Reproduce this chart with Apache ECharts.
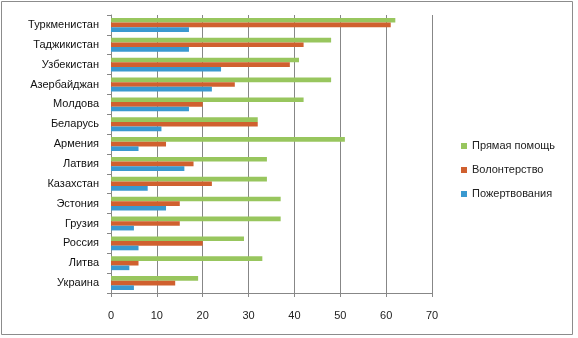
<!DOCTYPE html>
<html>
<head>
<meta charset="utf-8">
<script src="https://cdn.jsdelivr.net/npm/echarts@6/dist/echarts.min.js"></script>
<style>
  html, body { margin: 0; padding: 0; background: #fff; }
  #chart { width: 578px; height: 338px; }
</style>
</head>
<body>
<div id="chart"></div>
<script>
// Countries, bottom to top as drawn on the category axis
const countries = ['Украина', 'Литва', 'Россия', 'Грузия', 'Эстония', 'Казахстан', 'Латвия',
  'Армения', 'Беларусь', 'Молдова', 'Азербайджан', 'Узбекистан', 'Таджикистан', 'Туркменистан'];

const directHelp = [19, 33, 29, 37, 37, 34, 34, 51, 32, 42, 48, 41, 48, 62];
const volunteering = [14, 6, 20, 15, 15, 22, 18, 12, 32, 20, 27, 39, 42, 61];
const donations = [5, 4, 6, 5, 12, 8, 16, 6, 11, 17, 22, 24, 17, 17];

const xTicks = { min: 0, max: 70, interval: 10 };

const chart = echarts.init(document.getElementById('chart'), null, { renderer: 'canvas' });
const font = 'Liberation Sans, Arial, sans-serif';
const gridColor = '#878787';

chart.setOption({
  animation: false,
  backgroundColor: '#ffffff',
  textStyle: { fontFamily: font },
  graphic: [{
    type: 'rect',
    shape: { x: 1.5, y: 1.5, width: 571, height: 333 },
    style: { fill: 'none', stroke: '#8c8c8c', lineWidth: 1 }
  }],
  grid: { left: 111, right: 146, top: 15, bottom: 45, containLabel: false },
  legend: {
    orient: 'vertical',
    left: 461,
    top: 139,
    padding: 0,
    itemWidth: 6,
    itemHeight: 6,
    itemGap: 10,
    icon: 'rect',
    textStyle: { fontFamily: font, fontSize: 11, color: '#222', lineHeight: 14 },
    data: ['Прямая помощь', 'Волонтерство', 'Пожертвования']
  },
  xAxis: {
    type: 'value',
    min: xTicks.min,
    max: xTicks.max,
    interval: xTicks.interval,
    axisLine: { show: true, lineStyle: { color: gridColor } },
    axisTick: { show: true, length: 4, lineStyle: { color: gridColor } },
    axisLabel: { margin: 17, fontSize: 11, color: '#222', fontFamily: font },
    splitLine: { show: true, lineStyle: { color: gridColor, width: 1 } }
  },
  yAxis: {
    type: 'category',
    data: countries,
    axisLine: { show: true, lineStyle: { color: gridColor } },
    axisTick: { show: true, length: 4, lineStyle: { color: gridColor } },
    axisLabel: { margin: 12, fontSize: 11, color: '#111', fontFamily: font },
    splitLine: { show: false }
  },
  series: [
    { name: 'Прямая помощь', type: 'bar', data: directHelp, barGap: '0%', barCategoryGap: '30%',
      itemStyle: { color: '#98c65e' } },
    { name: 'Волонтерство', type: 'bar', data: volunteering, barGap: '0%', barCategoryGap: '30%',
      itemStyle: { color: '#d0602f' } },
    { name: 'Пожертвования', type: 'bar', data: donations, barGap: '0%', barCategoryGap: '30%',
      itemStyle: { color: '#3a99d0' } }
  ]
});
</script>
</body>
</html>
